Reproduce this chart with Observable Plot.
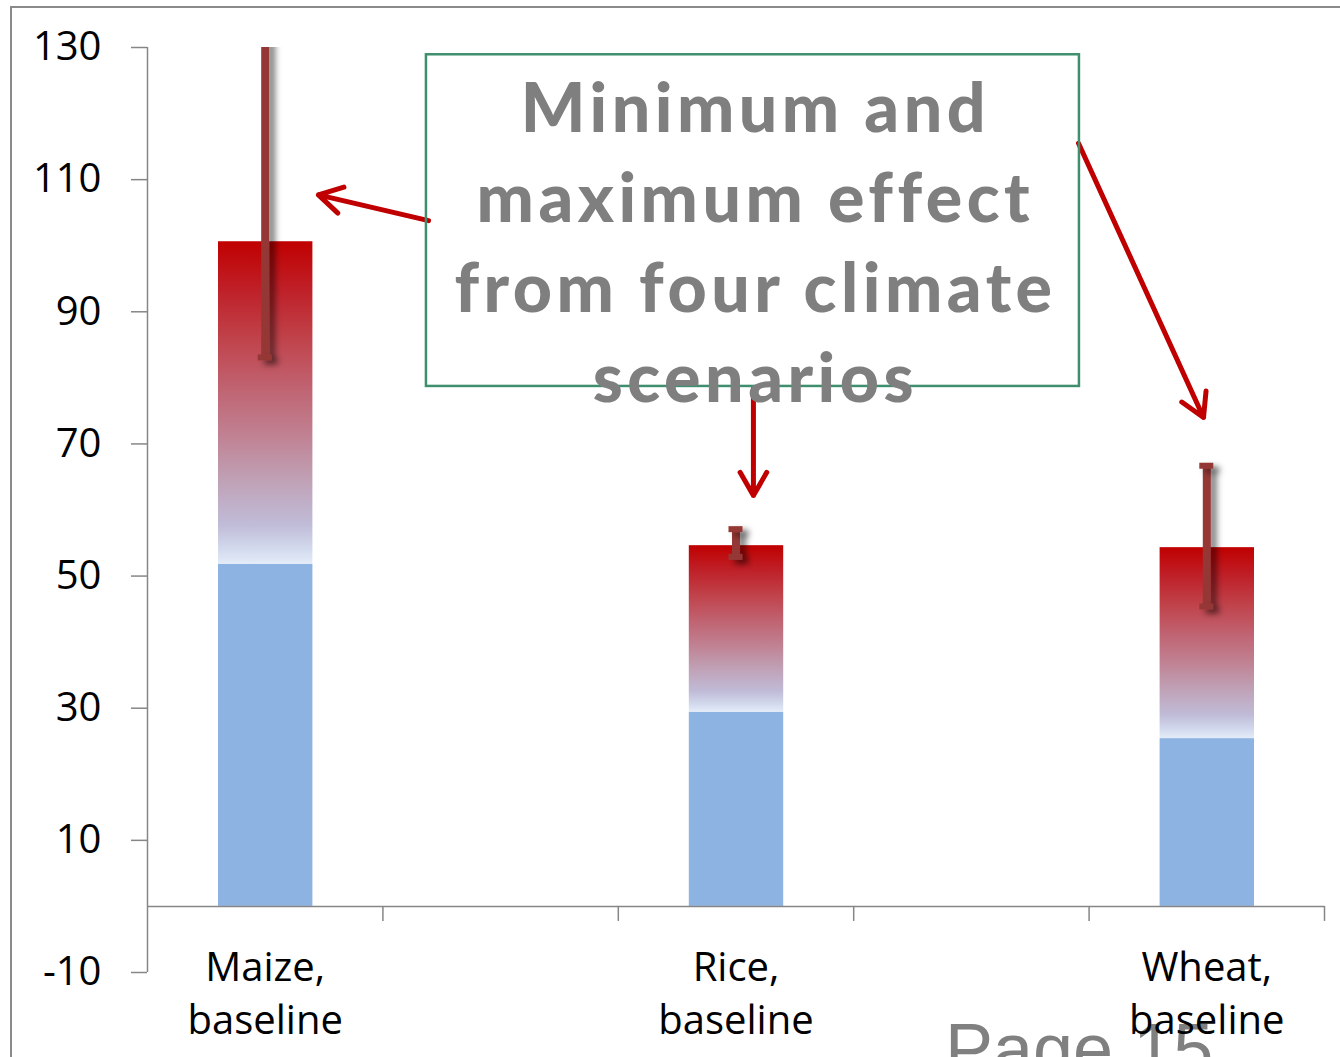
<!DOCTYPE html>
<html>
<head>
<meta charset="utf-8">
<script src="https://cdn.jsdelivr.net/npm/d3@7"></script>
<script src="https://cdn.jsdelivr.net/npm/@observablehq/plot@0.6"></script>
<style>
  html, body { margin: 0; padding: 0; background: #fff; }
  body { width: 1340px; height: 1057px; overflow: hidden; position: relative; }
  #frame { position: absolute; left: 10px; top: 6px; width: 1400px; height: 1100px;
           border-left: 2px solid #8a8a8a; border-top: 2px solid #8a8a8a; }
  #page { position: absolute; left: 945px; top: 1013px; font-family: "Liberation Sans", Arial, sans-serif;
          font-size: 72px; line-height: 72px; color: #808080; white-space: nowrap; }
  #chart { position: absolute; left: 0; top: 0; }
</style>
</head>
<body>
<div id="frame"></div>
<div id="page">Page 15</div>
<div id="chart"></div>
<script>
// ---- data ----
const categories = ["Maize,\nbaseline", "", "Rice,\nbaseline", "", "Wheat,\nbaseline"];
const baselineValues = [51.8, null, 29.4, null, 25.4];
const climateTop = [100.6, null, 54.6, null, 54.3];
const effectMin = [83.1, null, 52.9, null, 45.4];
const effectMax = [135, null, 57.1, null, 66.7];
const yTicks = [-10, 10, 30, 50, 70, 90, 110, 130];
const annotationText = "Minimum and\nmaximum effect\nfrom four climate\nscenarios";
// annotation geometry in chart units (slot index, y value)
const annotationBox = [{x1: 1.185, x2: 3.959, y1: 78.7, y2: 128.9}];
const annotationAnchor = [{x: 2.574, y: 101.1}];
const arrows = [
  {x1: 1.194, y1: 103.8, x2: 0.726, y2: 107.7},
  {x1: 2.574, y1: 78.4, x2: 2.574, y2: 62.2},
  {x1: 3.955, y1: 115.5, x2: 4.486, y2: 74.0}
];

const rows = categories.map((label, slot) => ({
  slot, label,
  base: baselineValues[slot], top: climateTop[slot],
  min: effectMin[slot], max: effectMax[slot]
})).filter(d => d.base != null);
const boundaries = categories.map((c, i) => i + 1);
const caps = rows.flatMap(d => [{slot: d.slot, v: d.min}, {slot: d.slot, v: d.max}]);

const chart = Plot.plot({
  width: 1340,
  height: 1057,
  marginLeft: 147,
  marginRight: 16,
  marginTop: 47,
  marginBottom: 85,
  style: {fontFamily: "'Open Sans', sans-serif", background: "transparent", overflow: "visible", color: "#000"},
  x: {domain: [0, categories.length], axis: null},
  y: {domain: [-10, 130], axis: null},
  marks: [
    Plot.axisY({ticks: yTicks, tickSize: 16, tickPadding: 30, fontSize: 40, stroke: "#868686", strokeWidth: 1.5, fill: "#000", label: null, tickFormat: d => String(d)}),
    // baseline (blue) part
    Plot.rectY(rows, {x1: d => d.slot, x2: d => d.slot + 1, y1: 0, y2: "base", fill: "#8db3e2", insetLeft: 71, insetRight: 70}),
    // climate part (gradient)
    Plot.rectY(rows, {x1: d => d.slot, x2: d => d.slot + 1, y1: "base", y2: "top", fill: "url(#climateGrad)", insetLeft: 71, insetRight: 70}),
    // axes lines
    Plot.ruleX([0], {y1: -10, y2: 130, stroke: "#868686", strokeWidth: 1.5}),
    Plot.ruleY([0], {x1: 0, x2: categories.length, stroke: "#868686", strokeWidth: 1.5}),
    Plot.ruleX(boundaries, {x: d => d, y1: 0, y2: 0, insetBottom: -15, stroke: "#868686", strokeWidth: 1.5}),
    // error bars
    Plot.ruleX(rows, {x: d => d.slot + 0.5, y1: "min", y2: "max", stroke: "#953735", strokeWidth: 8, clip: true, ariaLabel: () => "error-bars"}),
    Plot.ruleY(caps, {y: "v", x1: d => d.slot + 0.5, x2: d => d.slot + 0.5, insetLeft: -7, insetRight: -7, stroke: "#953735", strokeWidth: 6, clip: true, ariaLabel: () => "error-caps"}),
    // category labels
    Plot.text(rows, {x: d => d.slot + 0.5, text: "label", frameAnchor: "bottom", lineAnchor: "top", lineHeight: 1.325, dy: -29.6, fontSize: 40, fill: "#000"}),
    // annotation
    Plot.arrow(arrows, {x1: "x1", y1: "y1", x2: "x2", y2: "y2", stroke: "#c00000", strokeWidth: 5, headLength: 8, headAngle: 60}),
    Plot.rect(annotationBox, {x1: "x1", x2: "x2", y1: "y1", y2: "y2", fill: "none", stroke: "#3f8f6f", strokeWidth: 2.5}),
    Plot.text(annotationAnchor, {x: "x", y: "y", text: () => annotationText, fontSize: 68, fontWeight: 900, fontFamily: "Lato, sans-serif", fill: "#7f7f7f", lineHeight: 1.3235, lineAnchor: "middle", dx: 2, ariaLabel: () => "annotation"})
  ]
});

d3.select(chart).insert("defs", ":first-child").html(`
  <linearGradient id="climateGrad" x1="0" y1="0" x2="0" y2="1">
    <stop offset="0" stop-color="#c00000"/>
    <stop offset="0.15" stop-color="#bf2028"/>
    <stop offset="0.30" stop-color="#c0424a"/>
    <stop offset="0.45" stop-color="#c06270"/>
    <stop offset="0.60" stop-color="#c08192"/>
    <stop offset="0.75" stop-color="#c0a3b8"/>
    <stop offset="0.88" stop-color="#c0bcd8"/>
    <stop offset="0.96" stop-color="#d4dcef"/>
    <stop offset="1" stop-color="#e4ecf8"/>
  </linearGradient>
  <filter id="errShadow" filterUnits="userSpaceOnUse" x="0" y="0" width="1340" height="1057">
    <feDropShadow dx="6" dy="4" stdDeviation="3" flood-color="#000" flood-opacity="0.5"/>
  </filter>`);
d3.select(chart).selectAll('[aria-label="error-bars"], [aria-label="error-caps"]').attr("filter", "url(#errShadow)");
d3.select(chart).selectAll('[aria-label="annotation"]').attr("letter-spacing", "4.5px").style("letter-spacing", "4.5px");

document.getElementById("chart").appendChild(chart);
</script>
</body>
</html>
